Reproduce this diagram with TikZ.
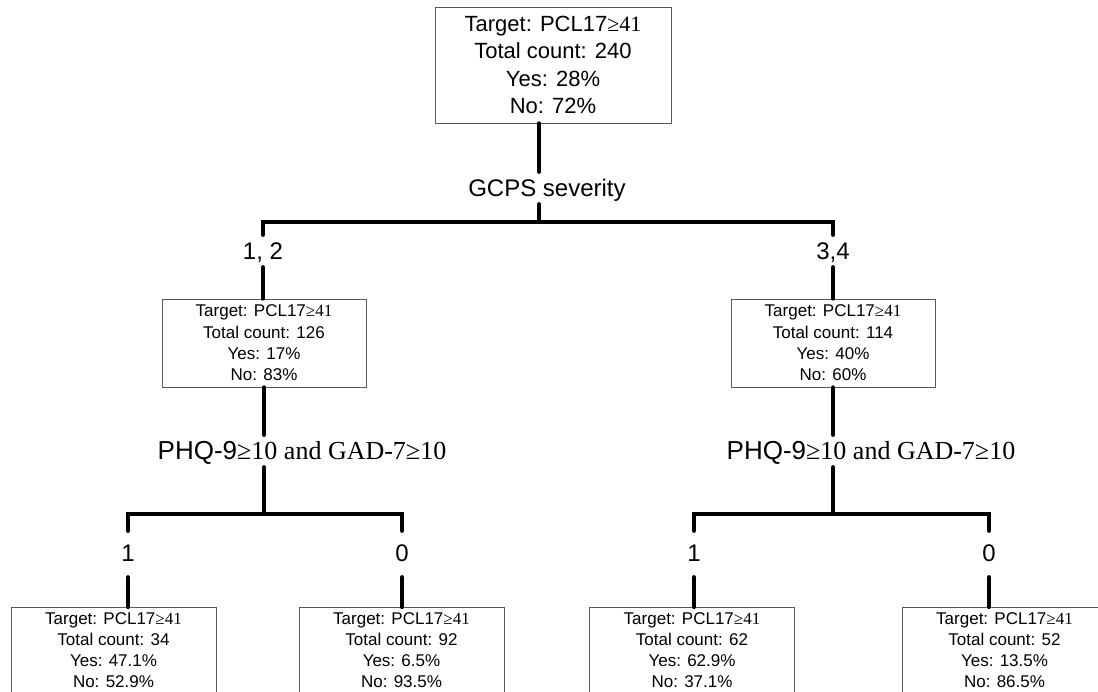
\documentclass[tikz,border=0pt]{standalone}
\usepackage{fontspec}
\setmainfont{Liberation Sans}
\newfontfamily\timesfam{Liberation Serif}
\newcommand\tms[1]{{\timesfam #1}}
\begin{document}
\begin{tikzpicture}[x=1pt,y=-1pt,
  branch/.style={line width=4.2pt, line cap=round, line join=miter},
  box/.style={draw=black!65, line width=0.8pt, align=center, inner sep=0pt},
  topbox/.style={box, minimum width=236pt, minimum height=116pt, font=\fontsize{22}{27.3}\selectfont},
  midbox/.style={box, minimum width=204pt, minimum height=88pt, font=\fontsize{17}{21.3}\selectfont},
  leafbox/.style={box, anchor=north, minimum width=205pt, inner ysep=5pt, font=\fontsize{17}{21}\selectfont},
  split/.style={font=\fontsize{24}{28}\selectfont, text height=20pt, text depth=2pt, inner xsep=2pt, inner ysep=5pt},
  value/.style={split, text height=18pt, text depth=4pt, inner ysep=12pt},
]
\useasboundingbox (0,0) rectangle (1098,692);
\clip (0,0) rectangle (1098,692);

% root of the tree
\node[topbox] (root) at (553,65) {Target: PCL17\tms{≥41}\\Total count: 240\\Yes: 28\%\\No: 72\%};
\node[split] (gcps) at (547,188) {GCPS severity};
\coordinate (j0) at (539,222);
\draw[branch] (root.south -| j0) -- (gcps.north -| j0);
\draw[branch] (gcps.south -| j0) -- (j0);

% first split
\node[split] (s12) at (263,251) {1, 2};
\node[split] (s34) at (833,251) {3,4};
\draw[branch] (s12.north) |- (j0) -| (s34.north);

\node[midbox] (ml) at (264,343) {Target: PCL17\tms{≥41}\\Total count: 126\\Yes: 17\%\\No: 83\%};
\node[midbox] (mr) at (833,343) {Target: PCL17\tms{≥41}\\Total count: 114\\Yes: 40\%\\No: 60\%};
\draw[branch] (s12.south) -- (ml.north -| s12);
\draw[branch] (s34.south) -- (mr.north -| s34);

% second split, left branch
\coordinate (j1) at (264,514);
\node[split, font=\fontsize{26}{30}\selectfont] (phl) at (302,451) {PHQ-9\tms{≥10 and GAD-7≥10}};
\draw[branch] (ml.south -| j1) -- (phl.north -| j1);
\draw[branch] (phl.south -| j1) -- (j1);
\node[value] (va1) at (128,554) {1};
\node[value] (va0) at (402,554) {0};
\draw[branch] (va1.north) |- (j1) -| (va0.north);

% second split, right branch
\coordinate (j2) at (833,514);
\node[split, font=\fontsize{26}{30}\selectfont] (phr) at (871,451) {PHQ-9\tms{≥10 and GAD-7≥10}};
\draw[branch] (mr.south -| j2) -- (phr.north -| j2);
\draw[branch] (phr.south -| j2) -- (j2);
\node[value] (vb1) at (694,554) {1};
\node[value] (vb0) at (989,554) {0};
\draw[branch] (vb1.north) |- (j2) -| (vb0.north);

% leaves
\node[leafbox] (la) at (113.5,607) {Target: PCL17\tms{≥41}\\Total count: 34\\Yes: 47.1\%\\No: 52.9\%};
\node[leafbox] (lb) at (401.5,607) {Target: PCL17\tms{≥41}\\Total count: 92\\Yes: 6.5\%\\No: 93.5\%};
\node[leafbox] (lc) at (692,607) {Target: PCL17\tms{≥41}\\Total count: 62\\Yes: 62.9\%\\No: 37.1\%};
\node[leafbox] (ld) at (1004.5,607) {Target: PCL17\tms{≥41}\\Total count: 52\\Yes: 13.5\%\\No: 86.5\%};
\draw[branch] (va1.south) -- (va1.south |- la.north);
\draw[branch] (va0.south) -- (va0.south |- lb.north);
\draw[branch] (vb1.south) -- (vb1.south |- lc.north);
\draw[branch] (vb0.south) -- (vb0.south |- ld.north);
\end{tikzpicture}
\end{document}
